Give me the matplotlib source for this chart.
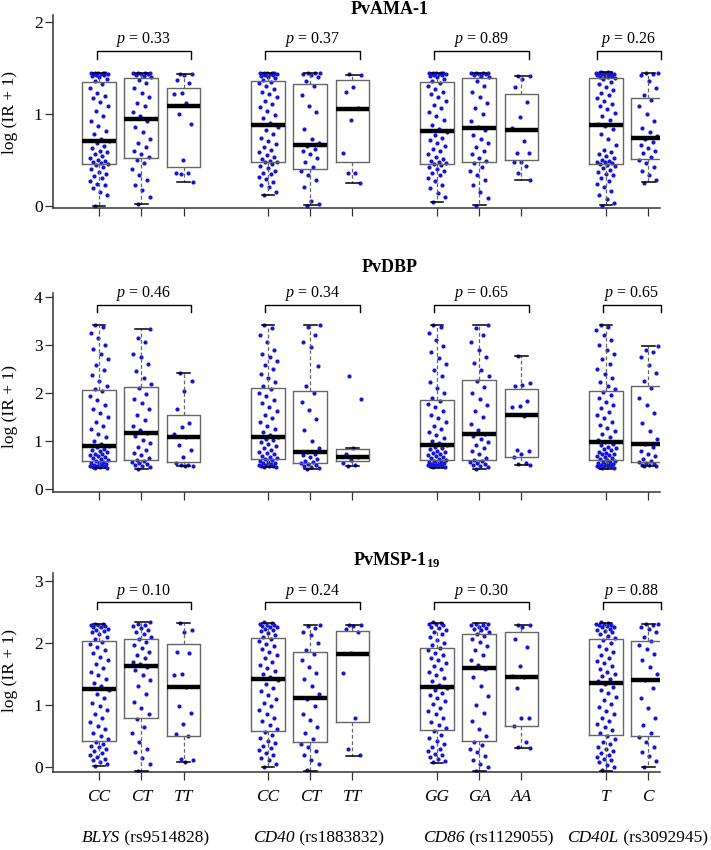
import matplotlib
matplotlib.use("Agg")
import matplotlib.pyplot as plt
from matplotlib.transforms import blended_transform_factory

plt.rcParams["font.family"] = ["Liberation Serif", "DejaVu Serif"]
plt.rcParams["mathtext.fontset"] = "custom"
plt.rcParams["mathtext.it"] = "Liberation Serif:italic"
plt.rcParams["mathtext.bf"] = "Liberation Serif:bold"
plt.rcParams["mathtext.rm"] = "Liberation Serif"

# ---- categories ----
genotypes = ["CC", "CT", "TT", "CC", "CT", "TT", "GG", "GA", "AA", "T", "C"]
group_sizes = [3, 3, 3, 2]
gene_names = ["BLYS", "CD40", "CD86", "CD40L"]
snp_ids = ["rs9514828", "rs1883832", "rs1129055", "rs3092945"]
antigens = ["PvAMA-1", "PvDBP", "PvMSP-1$_{\\mathbf{19}}$"]

# ---- p values ----
ama_p = ["0.33", "0.37", "0.89", "0.26"]
dbp_p = ["0.46", "0.34", "0.65", "0.65"]
msp_p = ["0.10", "0.24", "0.30", "0.88"]

# ---- box statistics ----
ama_q1 = [0.45, 0.515, 0.417, 0.475, 0.399, 0.472, 0.457, 0.472, 0.497, 0.45, 0.511]
ama_med = [0.707, 0.946, 1.084, 0.88, 0.656, 1.051, 0.809, 0.841, 0.826, 0.88, 0.733]
ama_q3 = [1.34, 1.39, 1.276, 1.359, 1.326, 1.37, 1.341, 1.391, 1.21, 1.39, 1.174]
ama_lo = [0.0, 0.02, 0.254, 0.116, 0.004, 0.247, 0.044, 0.004, 0.279, 0.008, 0.254]
ama_hi = [1.44, 1.44, 1.43, 1.44, 1.44, 1.424, 1.44, 1.44, 1.41, 1.45, 1.44]

dbp_q1 = [0.584, 0.61, 0.557, 0.626, 0.543, 0.59, 0.598, 0.598, 0.667, 0.605, 0.557]
dbp_med = [0.90, 1.166, 1.083, 1.083, 0.771, 0.66, 0.917, 1.146, 1.534, 0.972, 0.93]
dbp_q3 = [2.054, 2.12, 1.534, 2.095, 2.033, 0.827, 1.852, 2.268, 2.074, 2.033, 2.15]
dbp_lo = [0.432, 0.418, 0.474, 0.453, 0.418, 0.49, 0.445, 0.418, 0.50, 0.425, 0.474]
dbp_hi = [3.41, 3.32, 2.41, 3.41, 3.41, 0.85, 3.41, 3.41, 2.76, 3.41, 2.975]

msp_q1 = [0.418, 0.788, 0.508, 0.579, 0.407, 0.723, 0.60, 0.418, 0.659, 0.514, 0.508]
msp_med = [1.264, 1.629, 1.29, 1.415, 1.114, 1.826, 1.29, 1.596, 1.452, 1.355, 1.404]
msp_q3 = [2.035, 2.068, 1.977, 2.079, 1.849, 2.196, 1.923, 2.148, 2.17, 2.068, 2.035]
msp_lo = [0.016, -0.055, 0.08, 0.01, -0.055, 0.187, 0.075, -0.06, 0.305, -0.055, 0.01]
msp_hi = [2.304, 2.33, 2.325, 2.325, 2.293, 2.293, 2.325, 2.315, 2.293, 2.325, 2.304]

# ---- individual points ----
ama_blys_cc = [0.00, 0.12, 0.15, 0.19, 0.22, 0.24, 0.27, 0.30, 0.32, 0.35, 0.37, 0.40, 0.42, 0.44,
               0.45, 0.46, 0.47, 0.49, 0.50, 0.52, 0.54, 0.56, 0.58, 0.60, 0.63, 0.65, 0.68, 0.70,
               0.73, 0.78, 0.81, 0.87, 0.92, 0.98, 1.03, 1.08, 1.13, 1.17, 1.19, 1.22, 1.28, 1.32,
               1.36, 1.38, 1.40, 1.41, 1.42, 1.42, 1.43, 1.43, 1.43, 1.44, 1.44, 1.44, 1.44, 1.44]
ama_blys_ct = [0.02, 0.10, 0.17, 0.22, 0.28, 0.33, 0.40, 0.46, 0.50,
               0.53, 0.56, 0.60, 0.64, 0.68, 0.72, 0.80, 0.86, 0.92,
               0.97, 1.02, 1.08, 1.12, 1.18, 1.22, 1.28, 1.33, 1.37,
               1.40, 1.41, 1.42, 1.43, 1.43, 1.44, 1.44, 1.44, 1.44]
ama_blys_tt = [1.43, 1.43, 1.42, 1.37, 1.33, 1.22, 1.21, 1.12, 1.00, 0.89, 0.50, 0.36, 0.36, 0.35, 0.26]
ama_cd40_cc = [0.12, 0.15, 0.20, 0.23, 0.26, 0.29, 0.31, 0.34, 0.36, 0.38, 0.41, 0.43, 0.45, 0.47,
               0.48, 0.49, 0.51, 0.53, 0.55, 0.58, 0.61, 0.64, 0.67, 0.70, 0.74, 0.78, 0.82, 0.86,
               0.90, 0.95, 0.99, 1.03, 1.07, 1.11, 1.14, 1.18, 1.21, 1.24, 1.27, 1.30, 1.33, 1.35,
               1.37, 1.39, 1.40, 1.41, 1.42, 1.42, 1.43, 1.43, 1.43, 1.44, 1.44, 1.44, 1.44, 1.44]
ama_cd40_ct = [0.00, 0.02, 0.05, 0.20, 0.28, 0.33, 0.38, 0.42, 0.47, 0.52, 0.56, 0.60, 0.62, 0.65,
               0.68, 0.72, 0.83, 1.02, 1.08, 1.20, 1.30, 1.36, 1.40, 1.42, 1.43, 1.44, 1.44, 1.44]
ama_cd40_tt = [1.43, 1.42, 1.29, 1.24, 1.06, 0.93, 0.57, 0.36, 0.36, 0.25]
ama_cd86_gg = [0.04, 0.09, 0.14, 0.19, 0.23, 0.27, 0.30, 0.33, 0.36, 0.38, 0.40, 0.42, 0.44, 0.45,
               0.46, 0.47, 0.49, 0.51, 0.53, 0.56, 0.59, 0.62, 0.65, 0.68, 0.71, 0.74, 0.77, 0.80,
               0.83, 0.88, 0.93, 0.98, 1.02, 1.06, 1.10, 1.14, 1.18, 1.21, 1.24, 1.27, 1.30, 1.33,
               1.36, 1.38, 1.40, 1.41, 1.42, 1.42, 1.43, 1.43, 1.43, 1.44, 1.44, 1.44, 1.44, 1.44]
ama_cd86_ga = [0.00, 0.08, 0.15, 0.22, 0.28, 0.33, 0.38, 0.42, 0.46,
               0.49, 0.52, 0.56, 0.60, 0.64, 0.68, 0.72, 0.77, 0.82,
               0.86, 0.92, 1.00, 1.06, 1.12, 1.18, 1.24, 1.30, 1.36,
               1.40, 1.41, 1.42, 1.43, 1.43, 1.44, 1.44, 1.44, 1.44]
ama_cd86_aa = [1.41, 1.41, 1.38, 1.29, 1.13, 0.96, 0.85, 0.70, 0.57, 0.57, 0.47, 0.47, 0.43, 0.36, 0.28]
ama_cd40l_t = [0.00, 0.03, 0.07, 0.12, 0.16, 0.20, 0.24, 0.27, 0.30, 0.33, 0.35, 0.37, 0.39, 0.41, 0.43, 0.44,
               0.45, 0.46, 0.47, 0.48, 0.49, 0.50, 0.52, 0.54, 0.56, 0.58, 0.61, 0.66, 0.72, 0.78, 0.83, 0.87,
               0.89, 0.93, 0.97, 1.01, 1.05, 1.08, 1.11, 1.14, 1.17, 1.20, 1.23, 1.26, 1.29, 1.32, 1.35, 1.38,
               1.39, 1.40, 1.40, 1.41, 1.41, 1.42, 1.42, 1.43, 1.43, 1.43, 1.44, 1.44, 1.44, 1.44, 1.45, 1.45]
ama_cd40l_c = [0.25, 0.28, 0.33, 0.38, 0.42, 0.46, 0.50, 0.53, 0.57, 0.60, 0.63, 0.66, 0.69, 0.72,
               0.76, 0.80, 0.85, 0.92, 1.00, 1.08, 1.15, 1.20, 1.28, 1.36, 1.42, 1.43, 1.44, 1.44]

dbp_blys_cc = [0.43, 0.44, 0.45, 0.46, 0.47, 0.48, 0.49, 0.50, 0.51, 0.52, 0.54, 0.55, 0.57, 0.58,
               0.60, 0.62, 0.64, 0.66, 0.68, 0.70, 0.72, 0.74, 0.77, 0.79, 0.82, 0.84, 0.87, 0.89,
               0.93, 1.00, 1.08, 1.15, 1.24, 1.32, 1.40, 1.50, 1.58, 1.66, 1.75, 1.85, 1.94, 2.03,
               2.09, 2.15, 2.25, 2.38, 2.48, 2.58, 2.70, 2.80, 2.92, 3.00, 3.15, 3.25, 3.38, 3.41]
dbp_blys_ct = [0.42, 0.45, 0.48, 0.50, 0.53, 0.55, 0.57, 0.59, 0.61,
               0.65, 0.70, 0.76, 0.82, 0.88, 0.95, 1.02, 1.10, 1.16,
               1.22, 1.32, 1.44, 1.55, 1.66, 1.78, 1.88, 1.98, 2.10,
               2.18, 2.30, 2.45, 2.60, 2.75, 2.80, 3.05, 3.15, 3.32]
dbp_blys_tt = [2.41, 2.25, 2.03, 1.66, 1.37, 1.30, 1.15, 1.08, 0.92, 0.81, 0.67, 0.54, 0.50, 0.50, 0.49, 0.47]
dbp_cd40_cc = [0.45, 0.46, 0.47, 0.48, 0.49, 0.50, 0.51, 0.52, 0.54, 0.55, 0.57, 0.59, 0.61, 0.62,
               0.64, 0.66, 0.69, 0.72, 0.75, 0.78, 0.82, 0.86, 0.90, 0.94, 0.98, 1.02, 1.05, 1.08,
               1.12, 1.18, 1.25, 1.32, 1.40, 1.48, 1.55, 1.63, 1.70, 1.78, 1.85, 1.93, 2.00, 2.08,
               2.14, 2.22, 2.30, 2.40, 2.50, 2.58, 2.66, 2.74, 2.80, 2.90, 3.05, 3.20, 3.35, 3.41]
dbp_cd40_ct = [0.42, 0.44, 0.46, 0.48, 0.50, 0.52, 0.54, 0.56, 0.59, 0.62, 0.66, 0.70, 0.73, 0.77,
               0.85, 1.00, 1.22, 1.45, 1.65, 1.82, 2.00, 2.15, 2.55, 2.95, 3.05, 3.20, 3.38, 3.41]
dbp_cd40_tt = [2.36, 1.87, 0.85, 0.74, 0.66, 0.60, 0.54, 0.50, 0.49]
dbp_cd86_gg = [0.45, 0.46, 0.47, 0.48, 0.49, 0.50, 0.51, 0.52, 0.53, 0.54, 0.55, 0.57, 0.58, 0.59,
               0.61, 0.63, 0.65, 0.67, 0.69, 0.71, 0.73, 0.75, 0.78, 0.80, 0.83, 0.86, 0.88, 0.91,
               0.95, 1.00, 1.06, 1.12, 1.18, 1.25, 1.32, 1.40, 1.47, 1.55, 1.62, 1.70, 1.77, 1.84,
               1.90, 2.00, 2.10, 2.22, 2.35, 2.48, 2.60, 2.72, 2.85, 2.98, 3.10, 3.25, 3.38, 3.41]
dbp_cd86_ga = [0.42, 0.45, 0.48, 0.50, 0.52, 0.54, 0.56, 0.58, 0.60,
               0.65, 0.72, 0.80, 0.86, 0.92, 0.98, 1.04, 1.10, 1.14,
               1.22, 1.35, 1.50, 1.62, 1.75, 1.88, 2.00, 2.12, 2.25,
               2.35, 2.48, 2.62, 2.75, 2.90, 3.05, 3.20, 3.35, 3.41]
dbp_cd86_aa = [2.76, 2.20, 2.17, 2.15, 1.83, 1.72, 1.70, 1.53, 0.82, 0.80, 0.74, 0.67, 0.55, 0.52, 0.50]
dbp_cd40l_t = [0.43, 0.44, 0.45, 0.46, 0.47, 0.48, 0.49, 0.50, 0.51, 0.52, 0.53, 0.54, 0.56, 0.57, 0.58, 0.60,
               0.62, 0.64, 0.66, 0.68, 0.70, 0.72, 0.74, 0.76, 0.78, 0.81, 0.83, 0.86, 0.88, 0.91, 0.94, 0.97,
               1.02, 1.08, 1.14, 1.20, 1.27, 1.34, 1.40, 1.47, 1.54, 1.61, 1.68, 1.75, 1.82, 1.89, 1.96, 2.02,
               2.08, 2.15, 2.22, 2.30, 2.40, 2.50, 2.60, 2.70, 2.80, 2.90, 3.00, 3.10, 3.20, 3.30, 3.38, 3.41]
dbp_cd40l_c = [0.47, 0.48, 0.50, 0.51, 0.52, 0.54, 0.56, 0.58, 0.62, 0.68, 0.72, 0.80, 0.87, 0.93,
               1.05, 1.20, 1.38, 1.58, 1.75, 1.90, 2.10, 2.25, 2.42, 2.58, 2.75, 2.85, 2.90, 2.97]

msp_blys_cc = [0.02, 0.05, 0.08, 0.11, 0.14, 0.17, 0.20, 0.23, 0.26, 0.29, 0.32, 0.35, 0.38, 0.41,
               0.45, 0.50, 0.55, 0.61, 0.67, 0.73, 0.79, 0.85, 0.92, 0.98, 1.04, 1.11, 1.18, 1.24,
               1.30, 1.36, 1.42, 1.48, 1.54, 1.60, 1.66, 1.72, 1.78, 1.84, 1.89, 1.94, 1.98, 2.02,
               2.06, 2.10, 2.14, 2.17, 2.19, 2.21, 2.23, 2.25, 2.26, 2.27, 2.28, 2.29, 2.30, 2.30]
msp_blys_ct = [-0.06, 0.05, 0.15, 0.25, 0.30, 0.40, 0.55, 0.65, 0.78,
               0.85, 0.95, 1.05, 1.18, 1.30, 1.40, 1.48, 1.56, 1.62,
               1.66, 1.70, 1.75, 1.80, 1.86, 1.92, 1.97, 2.02, 2.06,
               2.10, 2.14, 2.18, 2.21, 2.24, 2.27, 2.29, 2.31, 2.33]
msp_blys_tt = [2.32, 2.21, 2.18, 1.86, 1.83, 1.50, 1.49, 1.29, 0.99, 0.87, 0.70, 0.53, 0.50, 0.14, 0.12, 0.08]
msp_cd40_cc = [0.01, 0.06, 0.11, 0.15, 0.19, 0.23, 0.27, 0.31, 0.35, 0.39, 0.43, 0.47, 0.52, 0.57,
               0.62, 0.68, 0.74, 0.80, 0.86, 0.92, 0.98, 1.04, 1.10, 1.16, 1.22, 1.28, 1.34, 1.40,
               1.45, 1.50, 1.55, 1.60, 1.65, 1.70, 1.75, 1.80, 1.85, 1.90, 1.95, 1.99, 2.03, 2.07,
               2.10, 2.13, 2.16, 2.19, 2.21, 2.23, 2.25, 2.26, 2.27, 2.28, 2.29, 2.30, 2.32, 2.33]
msp_cd40_ct = [-0.05, 0.05, 0.12, 0.20, 0.26, 0.32, 0.38, 0.45, 0.55, 0.65, 0.76, 0.86, 0.98, 1.10,
               1.18, 1.30, 1.42, 1.52, 1.62, 1.72, 1.82, 1.88, 2.00, 2.12, 2.18, 2.24, 2.27, 2.29]
msp_cd40_tt = [2.29, 2.28, 2.27, 2.22, 2.18, 1.83, 1.51, 0.79, 0.30, 0.19]
msp_cd86_gg = [0.08, 0.10, 0.13, 0.16, 0.19, 0.22, 0.26, 0.29, 0.33, 0.37, 0.42, 0.47, 0.52, 0.58,
               0.63, 0.68, 0.73, 0.79, 0.85, 0.91, 0.96, 1.01, 1.06, 1.11, 1.16, 1.20, 1.24, 1.28,
               1.33, 1.38, 1.43, 1.48, 1.53, 1.58, 1.63, 1.68, 1.72, 1.76, 1.80, 1.84, 1.88, 1.92,
               1.96, 2.00, 2.05, 2.10, 2.14, 2.18, 2.21, 2.24, 2.26, 2.28, 2.30, 2.31, 2.32, 2.33]
msp_cd86_ga = [-0.06, 0.00, 0.06, 0.12, 0.18, 0.24, 0.30, 0.36, 0.41,
               0.50, 0.62, 0.75, 0.88, 1.00, 1.15, 1.30, 1.45, 1.58,
               1.65, 1.72, 1.80, 1.88, 1.95, 2.02, 2.07, 2.11, 2.14,
               2.17, 2.20, 2.22, 2.24, 2.26, 2.28, 2.29, 2.30, 2.31]
msp_cd86_aa = [2.29, 2.29, 2.26, 2.07, 1.93, 1.63, 1.46, 1.45, 1.27, 0.80, 0.80, 0.66, 0.41, 0.33, 0.31]
msp_cd40l_t = [-0.05, 0.00, 0.04, 0.08, 0.11, 0.14, 0.17, 0.20, 0.23, 0.26, 0.30, 0.33, 0.37, 0.41, 0.45, 0.50,
               0.55, 0.60, 0.65, 0.70, 0.75, 0.80, 0.86, 0.91, 0.97, 1.02, 1.08, 1.13, 1.19, 1.24, 1.29, 1.34,
               1.38, 1.42, 1.46, 1.50, 1.54, 1.58, 1.63, 1.67, 1.71, 1.76, 1.80, 1.85, 1.90, 1.95, 2.00, 2.05,
               2.08, 2.11, 2.14, 2.17, 2.19, 2.21, 2.23, 2.25, 2.26, 2.27, 2.28, 2.29, 2.30, 2.31, 2.32, 2.33]
msp_cd40l_c = [0.01, 0.10, 0.18, 0.25, 0.32, 0.40, 0.48, 0.55, 0.68, 0.80, 0.95, 1.12, 1.28, 1.40,
               1.50, 1.62, 1.72, 1.82, 1.90, 1.97, 2.03, 2.10, 2.17, 2.22, 2.26, 2.28, 2.30, 2.30]

ama_points = [ama_blys_cc, ama_blys_ct, ama_blys_tt, ama_cd40_cc, ama_cd40_ct, ama_cd40_tt,
              ama_cd86_gg, ama_cd86_ga, ama_cd86_aa, ama_cd40l_t, ama_cd40l_c]
dbp_points = [dbp_blys_cc, dbp_blys_ct, dbp_blys_tt, dbp_cd40_cc, dbp_cd40_ct, dbp_cd40_tt,
              dbp_cd86_gg, dbp_cd86_ga, dbp_cd86_aa, dbp_cd40l_t, dbp_cd40l_c]
msp_points = [msp_blys_cc, msp_blys_ct, msp_blys_tt, msp_cd40_cc, msp_cd40_ct, msp_cd40_tt,
              msp_cd86_gg, msp_cd86_ga, msp_cd86_aa, msp_cd40l_t, msp_cd40l_c]

# box positions: groups separated by one empty slot
positions = []
groups = []
x = 1
for n in group_sizes:
    groups.append(list(range(x, x + n)))
    positions += list(range(x, x + n))
    x += n + 1

W, H = 711, 850
fig = plt.figure(figsize=(W / 100, H / 100), dpi=100)

# panel rectangles in pixels: (top, bottom)
panel_px = [(15, 208), (293, 491.7), (573, 771.7)]
ylims = [(-0.025, 2.073), (-0.054, 4.077), (-0.071, 3.124)]
yticks = [[0, 1, 2], [0, 1, 2, 3, 4], [0, 1, 2, 3]]
brackets = [(1.68, 1.60, 1.765), (3.83, 3.68, 4.0), (2.65, 2.54, 2.77)]
title_px = [(390, 14), (390, 271.7), (397, 565)]
ylabel_px = [113, 406.7, 670]

panels = [
    (ama_points, ama_q1, ama_med, ama_q3, ama_lo, ama_hi, ama_p),
    (dbp_points, dbp_q1, dbp_med, dbp_q3, dbp_lo, dbp_hi, dbp_p),
    (msp_points, msp_q1, msp_med, msp_q3, msp_lo, msp_hi, msp_p),
]

dot_color = "#1414DC"
edge_grey = "#666666"
axes_list = []

for i, (pts, q1, med, q3, lo, hi, pv) in enumerate(panels):
    top, bot = panel_px[i]
    ax = fig.add_axes([53 / W, 1 - bot / H, (660 - 53) / W, (bot - top) / H])
    axes_list.append(ax)

    # jittered points (deterministic golden-ratio spread)
    for pos, vals in zip(positions, pts):
        xs = [pos + ((k * 0.6180339887 + 0.31) % 1.0 - 0.5) * 0.46 for k in range(len(vals))]
        ax.scatter(xs, vals, s=9, color=dot_color, linewidths=0, zorder=3)

    stats = [dict(med=m, q1=a, q3=b, whislo=l, whishi=h)
             for a, m, b, l, h in zip(q1, med, q3, lo, hi)]
    ax.bxp(stats, positions=positions, widths=0.8, showfliers=False, capwidths=0.3,
           boxprops=dict(color=edge_grey, linewidth=1.0),
           medianprops=dict(color="black", linewidth=3.2, solid_capstyle="butt"),
           whiskerprops=dict(color=edge_grey, linewidth=0.9, linestyle=(0, (3, 2))),
           capprops=dict(color="black", linewidth=1.1),
           manage_ticks=False, zorder=4)

    # significance brackets
    by, leg, py = brackets[i]
    for g, p in zip(groups, pv):
        x0 = g[0] - (0.2 if len(g) == 2 and i == 0 else 0.06)
        x1 = g[-1] + (0.3 if len(g) == 2 else 0.17)
        ax.plot([x0, x0, x1, x1], [leg, by, by, leg], color="black", lw=1.0,
                clip_on=False, zorder=5)
        ax.text((x0 + x1) / 2, py, "$\\mathit{p}$ = " + p, ha="center", va="baseline",
                fontsize=11.5, clip_on=False)

    ax.set_xlim(-0.09, 14.28)
    ax.set_ylim(*ylims[i])
    ax.set_yticks(yticks[i])
    ax.set_xticks(positions)
    ax.spines["top"].set_visible(False)
    ax.spines["right"].set_visible(False)
    for s in ("left", "bottom"):
        ax.spines[s].set_color("#333333")
        ax.spines[s].set_linewidth(1.1)
    ax.tick_params(axis="both", direction="out", length=5.5, width=0.9, color="#333333",
                   labelsize=12.5)
    ax.tick_params(axis="y", pad=2)
    if i < 2:
        ax.set_xticklabels([])
    else:
        ax.set_xticklabels(genotypes, fontstyle="italic", fontsize=12.5)
        ax.tick_params(axis="x", pad=7)

    tx, ty = title_px[i]
    fig.text(tx / W, 1 - ty / H, antigens[i], ha="center", va="baseline",
             fontsize=13, fontweight="bold")
    fig.text(10 / W, 1 - ylabel_px[i] / H, "log (IR + 1)", rotation=90,
             ha="center", va="center", fontsize=12.5)

# gene labels under the bottom panel: italic gene name + roman SNP id
renderer = fig.canvas.get_renderer()
gene_cx = [145.5, 318.3, 488.5, 637.5]
for cx, gname, snp in zip(gene_cx, gene_names, snp_ids):
    t1 = fig.text(0, 1 - 842 / H, gname, fontstyle="italic", fontsize=12.5, va="baseline")
    t2 = fig.text(0, 1 - 842 / H, " (" + snp + ")", fontsize=12.5, va="baseline")
    w1 = t1.get_window_extent(renderer).width
    w2 = t2.get_window_extent(renderer).width
    x0 = cx - (w1 + w2) / 2
    t1.set_x(x0 / W)
    t2.set_x((x0 + w1) / W)

fig.savefig("out.png", dpi=100)
